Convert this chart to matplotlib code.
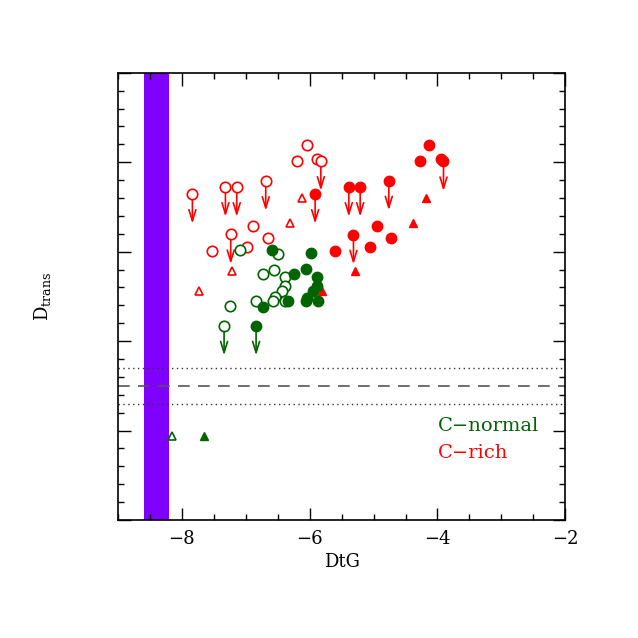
import numpy as np
import matplotlib.pyplot as plt
from matplotlib.ticker import MultipleLocator

# C-rich (red)
rich_open_x = [-6.045, -6.202, -5.879, -6.881, -6.646, -6.985, -7.528]
rich_open_y = [-0.809, -0.988, -0.965, -1.719, -1.849, -1.950, -1.991]
rich_open_lim_x = [-5.826, -7.836, -7.319, -7.142, -6.688, -7.236]
rich_open_lim_y = [-0.988, -1.357, -1.279, -1.279, -1.212, -1.808]
rich_fill_x = [-4.281, -4.125, -3.947, -4.949, -4.725, -5.059, -5.597]
rich_fill_y = [-0.992, -0.805, -0.970, -1.719, -1.849, -1.950, -1.991]
rich_fill_lim_x = [-5.915, -5.388, -5.210, -4.762, -3.906, -5.315]
rich_fill_lim_y = [-1.357, -1.279, -1.279, -1.208, -0.992, -1.812]
rich_otri_x = [-6.119, -6.307, -7.220, -7.732]
rich_otri_y = [-1.398, -1.681, -2.218, -2.442]
rich_ftri_x = [-5.289, -5.806, -4.381, -4.187]
rich_ftri_y = [-2.218, -2.442, -1.681, -1.402]

# C-normal (green)
norm_open_x = [-7.090, -6.489, -6.735, -6.552, -6.390, -6.385, -6.437,
               -6.541, -6.568, -6.844, -6.385, -7.246]
norm_open_y = [-1.980, -2.025, -2.248, -2.204, -2.289, -2.379, -2.435,
               -2.509, -2.550, -2.550, -2.547, -2.606]
norm_open_lim_x = [-7.340]
norm_open_lim_y = [-2.830]
norm_fill_x = [-6.593, -5.983, -6.239, -6.056, -5.889, -5.889, -5.941,
               -6.045, -6.061, -5.873, -6.343, -6.735]
norm_fill_y = [-1.980, -2.017, -2.248, -2.196, -2.286, -2.383, -2.435,
               -2.520, -2.550, -2.550, -2.550, -2.614]
norm_fill_lim_x = [-6.839]
norm_fill_lim_y = [-2.830]
norm_otri_x = [-8.160]
norm_otri_y = [-4.060]
norm_ftri_x = [-7.658]
norm_ftri_y = [-4.060]

band = (-8.59, -8.20)
dtrans_limit = -3.5
dtrans_err = 0.2

red = '#ff0000'
green = '#006400'
plt.rcParams['font.family'] = 'DejaVu Serif'

fig = plt.figure(figsize=(6.38, 6.38), dpi=100)
ax = fig.add_axes([0.185, 0.185, 0.701, 0.701])

ax.axvspan(band[0], band[1], color='#7f00ff', lw=0, zorder=0)
ax.axhline(dtrans_limit, color='#555555', lw=1.2, ls=(0, (7, 5)), zorder=1)
ax.axhline(dtrans_limit + dtrans_err, color='#333333', lw=1.0, ls=(0, (1, 2.5)), zorder=1)
ax.axhline(dtrans_limit - dtrans_err, color='#333333', lw=1.0, ls=(0, (1, 2.5)), zorder=1)

def arrows(xs, ys, col):
    for x, y in zip(xs, ys):
        ax.annotate('', xy=(x, y - 0.33), xytext=(x, y),
                    arrowprops=dict(arrowstyle='->,head_length=0.8,head_width=0.25',
                                    color=col, lw=1.2, shrinkA=4, shrinkB=0))

ms = 7.5
for col, ox, oy, olx, oly, fx, fy, flx, fly, tox, toy, tfx, tfy in [
        (red, rich_open_x, rich_open_y, rich_open_lim_x, rich_open_lim_y,
         rich_fill_x, rich_fill_y, rich_fill_lim_x, rich_fill_lim_y,
         rich_otri_x, rich_otri_y, rich_ftri_x, rich_ftri_y),
        (green, norm_open_x, norm_open_y, norm_open_lim_x, norm_open_lim_y,
         norm_fill_x, norm_fill_y, norm_fill_lim_x, norm_fill_lim_y,
         norm_otri_x, norm_otri_y, norm_ftri_x, norm_ftri_y)]:
    ax.plot(ox + olx, oy + oly, 'o', mfc='white', mec=col, mew=1.2, ms=ms, ls='none', zorder=3)
    ax.plot(fx + flx, fy + fly, 'o', color=col, ms=ms, ls='none', zorder=3)
    ax.plot(tox, toy, '^', mfc='white', mec=col, mew=1.2, ms=6, ls='none', zorder=3)
    ax.plot(tfx, tfy, '^', color=col, ms=6, ls='none', zorder=3)
    arrows(olx, oly, col)
    arrows(flx, fly, col)

ax.text(0.716, 0.21, 'C\u2212normal', color=green, fontsize=14,
        transform=ax.transAxes, va='center')
ax.text(0.716, 0.15, 'C\u2212rich', color=red, fontsize=14,
        transform=ax.transAxes, va='center')

ax.set_xlim(-9, -2)
ax.set_ylim(-5, 0)
ax.xaxis.set_major_locator(MultipleLocator(2))
ax.xaxis.set_minor_locator(MultipleLocator(0.5))
ax.yaxis.set_major_locator(MultipleLocator(1))
ax.yaxis.set_minor_locator(MultipleLocator(0.2))
ax.tick_params(which='both', direction='in', top=True, right=True, width=1)
ax.tick_params(which='major', length=9, labelsize=13, pad=7)
ax.tick_params(which='minor', length=4.5)
ax.set_yticklabels([])
for s in ax.spines.values():
    s.set_linewidth(1.2)

ax.set_xlabel('DtG', fontsize=13, labelpad=4)
ax.set_ylabel(r'D$_{\mathregular{trans}}$', fontsize=13, labelpad=40)

fig.savefig('out.png', dpi=100)
